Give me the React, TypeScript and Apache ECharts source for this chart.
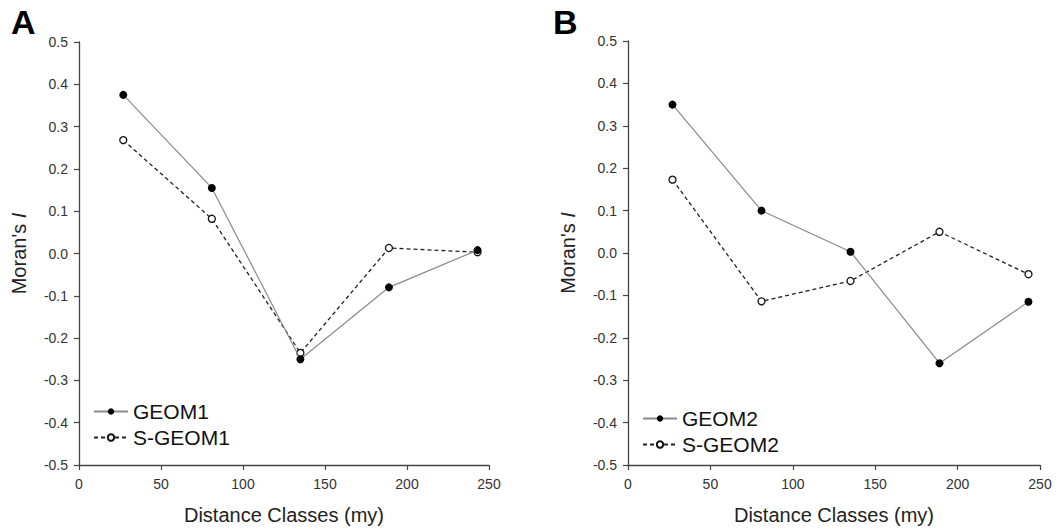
import React, { useEffect, useRef } from "react";
import * as echarts from "echarts";

const distances = [27, 81, 135, 189, 243];
const geom1 = [0.375, 0.155, -0.25, -0.08, 0.008];
const sGeom1 = [0.268, 0.082, -0.235, 0.013, 0.003];
const geom2 = [0.35, 0.1, 0.003, -0.26, -0.115];
const sGeom2 = [0.173, -0.114, -0.066, 0.05, -0.05];
const xTicks = [0, 250, 50];
const yTicks = [-0.5, 0.5, 0.1];

const FONT = "'Liberation Sans', Arial, sans-serif";

function pairs(ys: number[]) {
  return distances.map((x, i) => [x, ys[i]]);
}

export default function App() {
  const ref = useRef<HTMLDivElement>(null);
  useEffect(() => {
    if (!ref.current) return;
    const chart = echarts.init(ref.current, undefined, { renderer: "svg" });
    const axisColor = "#444";
    const labelColor = "#333";
    const xAxis = (gi: number) => ({
      type: "value",
      gridIndex: gi,
      min: xTicks[0],
      max: xTicks[1],
      interval: xTicks[2],
      name: "Distance Classes (my)",
      nameLocation: "middle",
      nameGap: 40,
      nameTextStyle: { fontFamily: FONT, fontSize: 20, color: "#222" },
      axisLine: { show: true, onZero: false, lineStyle: { color: axisColor, width: 1.3 } },
      axisTick: { show: true, length: 5, lineStyle: { color: axisColor, width: 1.2 } },
      axisLabel: { fontFamily: FONT, fontSize: 14, color: labelColor, margin: 12 },
      splitLine: { show: false },
    });
    const yAxis = (gi: number) => ({
      type: "value",
      gridIndex: gi,
      min: yTicks[0],
      max: yTicks[1],
      interval: yTicks[2],
      name: "{n|Moran's }{i|I}",
      nameLocation: "middle",
      nameRotate: 90,
      nameGap: 50,
      nameTextStyle: {
        fontFamily: FONT,
        fontSize: 20,
        color: "#222",
        rich: {
          n: { fontFamily: FONT, fontSize: 20, color: "#222" },
          i: { fontFamily: FONT, fontSize: 20, color: "#222", fontStyle: "italic" },
        },
      },
      axisLine: { show: true, onZero: false, lineStyle: { color: axisColor, width: 1.3 } },
      axisTick: { show: true, length: 5, lineStyle: { color: axisColor, width: 1.2 } },
      axisLabel: {
        fontFamily: FONT,
        fontSize: 14,
        color: labelColor,
        margin: 11,
        formatter: (v: number) => (Math.abs(v) < 1e-9 ? "0.0" : v.toFixed(1)),
      },
      splitLine: { show: false },
    });
    const solid = (name: string, data: number[], gi: number) => ({
      name,
      type: "line",
      xAxisIndex: gi,
      yAxisIndex: gi,
      data: pairs(data),
      symbol: "circle",
      symbolSize: 8,
      itemStyle: { color: "#000", borderColor: "#000", borderWidth: 0 },
      lineStyle: { color: "#8a8a8a", width: 1.2, type: "solid" },
      z: 3,
    });
    const dashed = (name: string, data: number[], gi: number) => ({
      name,
      type: "line",
      xAxisIndex: gi,
      yAxisIndex: gi,
      data: pairs(data),
      symbol: "circle",
      symbolSize: 7,
      itemStyle: { color: "#fff", borderColor: "#111", borderWidth: 1.3 },
      lineStyle: { color: "#222", width: 1.3, type: [4, 3] },
      z: 2,
    });
    const legend = (names: string[], left: number, top: number) => ({
      data: names,
      left,
      top,
      orient: "vertical",
      itemWidth: 34,
      itemHeight: 8,
      itemGap: 5,
      padding: 0,
      textStyle: { fontFamily: FONT, fontSize: 21, color: "#111" },
      selectedMode: false,
    });
    chart.setOption({
      animation: false,
      grid: [
        { left: 79, top: 42, width: 410, height: 423 },
        { left: 628, top: 41, width: 412, height: 425 },
      ],
      xAxis: [xAxis(0), xAxis(1)],
      yAxis: [yAxis(0), yAxis(1)],
      legend: [legend(["GEOM1", "S-GEOM1"], 93, 401), legend(["GEOM2", "S-GEOM2"], 642, 408)],
      series: [
        dashed("S-GEOM1", sGeom1, 0),
        solid("GEOM1", geom1, 0),
        dashed("S-GEOM2", sGeom2, 1),
        solid("GEOM2", geom2, 1),
      ],
      graphic: [
        { type: "text", left: 11, top: 5, style: { text: "A", font: `bold 34px ${FONT}`, fill: "#000" } },
        { type: "text", left: 553, top: 5, style: { text: "B", font: `bold 34px ${FONT}`, fill: "#000" } },
      ],
    });
    return () => chart.dispose();
  }, []);
  return <div ref={ref} style={{ width: 1061, height: 530, position: "absolute", left: 0, top: 0 }} />;
}
